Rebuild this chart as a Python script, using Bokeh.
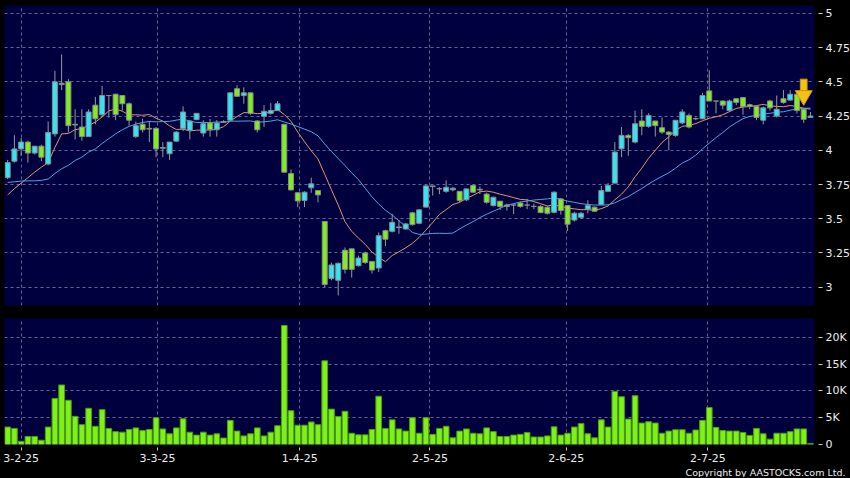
import numpy as np
from bokeh.plotting import figure
from bokeh.models import ColumnDataSource, FixedTicker, Range1d, Title
from bokeh.layouts import column
from bokeh.embed import file_html
from bokeh.resources import INLINE

# ---------------- data ----------------
opens = [3.80, 3.92, 4.01, 4.06, 3.98, 4.03, 3.90, 4.12, 4.49, 4.50,
         4.19, 4.17, 4.10, 4.33, 4.26, 4.40, 4.41, 4.40, 4.34, 4.10,
         4.19, 4.16, 4.16, 4.02, 3.975, 4.067, 4.16, 4.145, 4.224, 4.126,
         4.20, 4.15, 4.205, 4.22, 4.45, 4.40, 4.42, 4.214, 4.248, 4.27,
         4.29, 4.19, 3.83, 3.69, 3.633, 3.726, 3.706, 3.48, 3.064, 3.05,
         3.27, 3.28, 3.157, 3.25, 3.188, 3.14, 3.413, 3.408, 3.44, 3.425,
         3.543, 3.467, 3.585, 3.74, 3.72, 3.70, 3.711, 3.70, 3.638, 3.743,
         3.715, 3.68, 3.596, 3.628, 3.59, 3.60, 3.615, 3.60, 3.59, 3.59,
         3.584, 3.547, 3.645, 3.596, 3.49, 3.51, 3.57, 3.584, 3.604, 3.70,
         3.76, 4.011, 4.109, 4.06, 4.214, 4.175, 4.214, 4.165, 4.133, 4.109,
         4.20, 4.255, 4.232, 4.23, 4.434, 4.36, 4.36, 4.29, 4.377, 4.385,
         4.333, 4.32, 4.22, 4.36, 4.25, 4.377, 4.367, 4.41, 4.30, 4.24]
highs = [3.93, 4.11, 4.09, 4.07, 4.03, 4.04, 4.21, 4.58, 4.70, 4.52,
         4.30, 4.30, 4.30, 4.39, 4.47, 4.40, 4.41, 4.40, 4.35, 4.21,
         4.23, 4.21, 4.17, 4.06, 4.06, 4.14, 4.32, 4.22, 4.27, 4.22,
         4.23, 4.22, 4.22, 4.42, 4.475, 4.46, 4.42, 4.22, 4.33, 4.345,
         4.36, 4.19, 3.86, 3.69, 3.70, 3.80, 3.71, 3.48, 3.18, 3.18,
         3.29, 3.28, 3.23, 3.26, 3.19, 3.40, 3.42, 3.535, 3.49, 3.47,
         3.55, 3.57, 3.745, 3.74, 3.73, 3.78, 3.73, 3.70, 3.72, 3.75,
         3.735, 3.69, 3.66, 3.63, 3.61, 3.61, 3.625, 3.645, 3.61, 3.60,
         3.59, 3.70, 3.65, 3.60, 3.55, 3.55, 3.635, 3.59, 3.74, 3.76,
         4.06, 4.17, 4.12, 4.29, 4.30, 4.27, 4.215, 4.24, 4.14, 4.22,
         4.30, 4.27, 4.24, 4.42, 4.585, 4.36, 4.365, 4.37, 4.38, 4.39,
         4.34, 4.325, 4.32, 4.37, 4.40, 4.44, 4.44, 4.41, 4.31, 4.28]
lows = [3.79, 3.91, 3.96, 3.91, 3.97, 3.92, 3.89, 4.10, 4.44, 4.13,
        4.08, 4.07, 4.10, 4.19, 4.25, 4.24, 4.22, 4.29, 4.18, 4.09,
        4.13, 4.06, 3.95, 3.95, 3.93, 4.06, 4.14, 4.08, 4.22, 4.10,
        4.10, 4.10, 4.20, 4.22, 4.39, 4.34, 4.26, 4.13, 4.17, 4.26,
        4.29, 3.84, 3.71, 3.585, 3.585, 3.69, 3.62, 3.00, 3.05, 2.94,
        3.10, 3.07, 3.15, 3.17, 3.10, 3.11, 3.30, 3.40, 3.39, 3.42,
        3.45, 3.46, 3.58, 3.67, 3.68, 3.69, 3.70, 3.62, 3.63, 3.69,
        3.68, 3.61, 3.59, 3.565, 3.56, 3.535, 3.58, 3.57, 3.57, 3.54,
        3.53, 3.54, 3.53, 3.41, 3.48, 3.50, 3.54, 3.55, 3.60, 3.70,
        3.76, 3.95, 3.96, 4.05, 4.11, 4.165, 4.10, 4.12, 4.00, 4.10,
        4.19, 4.16, 4.22, 4.23, 4.36, 4.27, 4.30, 4.28, 4.33, 4.26,
        4.30, 4.22, 4.19, 4.29, 4.24, 4.34, 4.36, 4.27, 4.20, 4.24]
closes = [3.91, 4.01, 4.06, 3.98, 4.03, 3.95, 4.13, 4.50, 4.48, 4.18,
          4.185, 4.10, 4.28, 4.23, 4.40, 4.40, 4.26, 4.34, 4.22, 4.18,
          4.15, 4.155, 4.01, 4.015, 4.06, 4.133, 4.28, 4.214, 4.27, 4.194,
          4.15, 4.20, 4.21, 4.42, 4.395, 4.42, 4.27, 4.15, 4.285, 4.29,
          4.34, 3.84, 3.71, 3.63, 3.694, 3.755, 3.674, 3.02, 3.162, 3.174,
          3.13, 3.13, 3.213, 3.18, 3.125, 3.376, 3.35, 3.474, 3.435, 3.462,
          3.457, 3.565, 3.74, 3.735, 3.718, 3.73, 3.723, 3.633, 3.718, 3.694,
          3.71, 3.62, 3.657, 3.589, 3.60, 3.60, 3.59, 3.60, 3.59, 3.545,
          3.54, 3.694, 3.56, 3.46, 3.54, 3.54, 3.596, 3.555, 3.706, 3.743,
          3.987, 4.109, 4.092, 4.194, 4.175, 4.255, 4.18, 4.133, 4.116, 4.219,
          4.28, 4.17, 4.23, 4.40, 4.36, 4.36, 4.33, 4.36, 4.35, 4.32,
          4.32, 4.24, 4.31, 4.31, 4.30, 4.35, 4.41, 4.29, 4.226, 4.25]
volumes_k = [3.25, 3.0, 0.6, 1.5, 1.5, 0.8, 3.25, 8.6, 11.1, 8.25,
             5.25, 3.7, 6.75, 3.4, 6.5, 3.0, 2.4, 2.3, 2.8, 3.1,
             2.6, 2.8, 5.0, 2.9, 2.0, 3.1, 4.8, 2.3, 1.75, 2.3,
             1.75, 2.0, 1.2, 4.5, 2.5, 1.6, 2.0, 3.1, 1.6, 2.3,
             3.5, 22.2, 6.3, 3.6, 3.6, 4.2, 3.7, 15.6, 6.6, 5.2,
             6.2, 2.1, 1.8, 1.8, 2.8, 9.0, 3.0, 4.6, 2.9, 2.5,
             5.0, 2.1, 5.0, 1.9, 3.0, 3.4, 1.25, 2.5, 2.9, 2.1,
             2.0, 3.1, 2.4, 1.5, 1.5, 1.75, 1.9, 2.25, 1.4, 1.4,
             1.6, 3.3, 1.75, 2.1, 3.25, 3.9, 2.0, 1.25, 4.6, 3.25,
             9.9, 8.9, 4.75, 9.1, 4.0, 4.25, 4.0, 2.1, 2.5, 2.75,
             2.75, 2.1, 2.7, 4.5, 6.9, 3.2, 2.6, 2.5, 2.5, 2.25,
             1.7, 3.0, 2.0, 1.0, 2.1, 2.1, 2.4, 2.9, 2.9, 0.2]
# moving-average values before enough bars exist
ma10_head = [3.674, 3.72, 3.76, 3.80, 3.84, 3.877, 3.91, 4.02, 4.12]
ma20_head = [3.765, 3.77, 3.775, 3.777, 3.777, 3.78, 3.79, 3.83, 3.865, 3.89,
             3.926, 3.95, 3.987, 4.01, 4.05, 4.085, 4.12, 4.15, 4.175]
signal_index = 118
date_ticks = [2.0, 22.2, 43.3, 62.6, 82.8, 103.8]
date_labels = ["3-2-25", "3-3-25", "1-4-25", "2-5-25", "2-6-25", "2-7-25"]
price_ticks = [3, 3.25, 3.5, 3.75, 4, 4.25, 4.5, 4.75, 5]
price_labels = ["3", "3.25", "3.5", "3.75", "4", "4.25", "4.5", "4.75", "5"]
vol_ticks = [0, 5, 10, 15, 20]
vol_labels = ["0", "5K", "10K", "15K", "20K"]

# ---------------- derived ----------------
n = len(closes)
idx = list(range(n))


def sma(vals, w, head):
    out = list(head)
    for i in range(len(head), len(vals)):
        out.append(float(np.mean(vals[i - w + 1:i + 1])))
    return out


ma10 = sma(closes, 10, ma10_head)
ma20 = sma(closes, 20, ma20_head)

UP = "#33e4f2"
DOWN = "#80ee1e"
colors = [UP if c >= o else DOWN for o, c in zip(opens, closes)]
src = ColumnDataSource(dict(
    x=idx, o=opens, h=highs, l=lows, c=closes,
    top=[max(o, c) for o, c in zip(opens, closes)],
    bot=[min(o, c) for o, c in zip(opens, closes)],
    col=colors, vol=volumes_k, ma10=ma10, ma20=ma20))

BG = "#000000"
PLOT_BG = "#00003f"
GRID = "#64649a"
TXT = "#ececec"
FONT = "DejaVu Sans"
FW = 810

XR = Range1d(-0.47, 119.6)

p = figure(frame_width=FW, frame_height=300, x_range=XR, y_range=Range1d(2.866, 5.058),
           output_backend="svg", toolbar_location=None, y_axis_location="right",
           background_fill_color=PLOT_BG, border_fill_color=BG, outline_line_color=None,
           min_border_left=4, min_border_right=36, min_border_top=5, min_border_bottom=6)
p.xaxis.visible = False
p.xaxis.ticker = FixedTicker(ticks=date_ticks)
p.yaxis.ticker = FixedTicker(ticks=price_ticks)
p.yaxis.major_label_overrides = {t: s for t, s in zip(price_ticks, price_labels)}
for g in (p.xgrid, p.ygrid):
    g.grid_line_color = GRID
    g.grid_line_dash = "3 3"
    g.grid_line_width = 1
p.yaxis.axis_line_color = None
p.yaxis.minor_tick_line_color = None
p.yaxis.major_tick_line_color = "#cfcfcf"
p.yaxis.major_tick_in = -4
p.yaxis.major_tick_out = 8
p.yaxis.major_label_standoff = 3
p.yaxis.major_label_text_color = TXT
p.yaxis.major_label_text_font = FONT
p.yaxis.major_label_text_font_size = "11px"

# moving averages
p.line("x", "ma10", source=src, line_color="#e5956c", line_width=1)
p.line("x", "ma20", source=src, line_color="#4aa6e6", line_width=1)
# candles
p.segment("x", "h", "x", "l", source=src, line_color="#9a9a9a", line_width=1)
p.vbar(x="x", width=0.74, top="top", bottom="bot", source=src,
       fill_color="col", line_color="#8a8a8a", line_width=1)

# signal arrow above the selected bar
sx = signal_index
hi = highs[sx]
p.vbar(x=[sx], width=1.0, top=[hi + 0.21], bottom=[hi + 0.125],
       fill_color="#f2c21a", line_color="#d49a00", line_width=1)
p.scatter(x=[sx], y=[hi + 0.09], marker="inverted_triangle", size=17,
          fill_color="#f2c21a", line_color="#d49a00", line_width=1)

# ---------------- volume panel ----------------
v = figure(frame_width=FW, frame_height=126, x_range=XR, y_range=Range1d(0, 23.5),
           output_backend="svg", toolbar_location=None, y_axis_location="right",
           background_fill_color=PLOT_BG, border_fill_color=BG, outline_line_color=None,
           min_border_left=4, min_border_right=36, min_border_top=7, min_border_bottom=0)
v.vbar(x="x", width=0.84, top="vol", bottom=0, source=src,
       fill_color="#7ef01a", line_color="#4c9c12", line_width=1)
v.xaxis.ticker = FixedTicker(ticks=date_ticks)
v.xaxis.major_label_overrides = {t: s for t, s in zip(date_ticks, date_labels)}
v.yaxis.ticker = FixedTicker(ticks=vol_ticks)
v.yaxis.major_label_overrides = {t: s for t, s in zip(vol_ticks, vol_labels)}
v.ygrid.ticker = FixedTicker(ticks=[5, 10, 15, 20])
for g in (v.xgrid, v.ygrid):
    g.grid_line_color = GRID
    g.grid_line_dash = "3 3"
    g.grid_line_width = 1
for ax in (v.xaxis, v.yaxis):
    ax.axis_line_color = None
    ax.minor_tick_line_color = None
    ax.major_tick_line_color = "#cfcfcf"
    ax.major_label_text_color = TXT
    ax.major_label_text_font = FONT
    ax.major_label_text_font_size = "11px"
v.yaxis.major_tick_in = -4
v.yaxis.major_tick_out = 8
v.yaxis.major_label_standoff = 3
v.xaxis.major_tick_in = -3
v.xaxis.major_tick_out = 6
v.xaxis.major_label_standoff = 3

cp = Title(text="Copyright by AASTOCKS.com Ltd.", align="right",
           text_color=TXT, text_font=FONT, text_font_size="9.5px",
           text_font_style="normal", standoff=0, offset=-31)
v.add_layout(cp, "below")

layout = column(p, v, spacing=0, background=BG)
try:
    from bokeh.models import GlobalInlineStyleSheet
    layout.stylesheets = [GlobalInlineStyleSheet(
        css="html,body{background:#000000;margin:0;padding:0;overflow:hidden;}")]
except Exception:
    pass

open("out.html", "w").write(file_html(layout, INLINE))
